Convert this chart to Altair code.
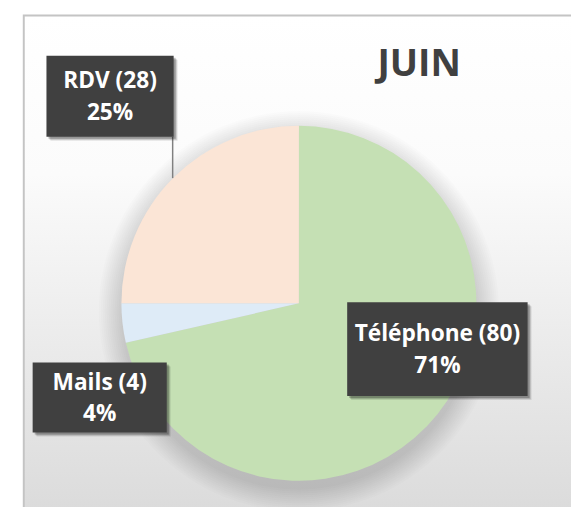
import altair as alt
import pandas as pd

# ---- data ----
categories = ["Téléphone", "Mails", "RDV"]
values = [80, 4, 28]
colors = ["#c5e0b4", "#deebf7", "#fbe5d6"]
title_text = "JUIN"

total = sum(values)
pie_df = pd.DataFrame({
    "cat": categories,
    "val": values,
    "order": list(range(len(categories))),
})
pie_df["label"] = [f"{c} ({v})\n{round(100 * v / total)}%" for c, v in zip(categories, values)]

# ---- layout (chart coords = page coords - 8) ----
CX, CY, R = 295, 296, 180
boxes = {
    "RDV": (39, 45, 168, 127),
    "Téléphone": (344, 295, 527, 390),
    "Mails": (25, 356, 161, 427),
}
FONT = "Open Sans"

dummy = alt.Data(values=[{}])

frame = alt.Chart(dummy).mark_rect(
    fill={"gradient": "linear", "x1": 0, "y1": 0, "x2": 0, "y2": 1,
          "stops": [{"offset": 0, "color": "#ffffff"},
                    {"offset": 0.3, "color": "#fbfbfb"},
                    {"offset": 1, "color": "#d8d8d8"}]},
    stroke="#c4c4c4", strokeWidth=2,
).encode(x=alt.value(16), y=alt.value(4), x2=alt.value(620), y2=alt.value(540))

shadow_layers = []
for k in range(12):
    r = R + 1 + k * 2
    shadow_layers.append(
        alt.Chart(dummy).mark_circle(color="#000000", opacity=0.012, stroke=None)
        .encode(x=alt.value(CX), y=alt.value(CY + 8), size=alt.value((2 * r) ** 2))
    )

pie = alt.Chart(pie_df).mark_arc(outerRadius=R).encode(
    theta=alt.Theta("val:Q", stack=True),
    order=alt.Order("order:Q"),
    color=alt.Color("cat:N", scale=alt.Scale(domain=categories, range=colors), legend=None),
    x=alt.value(CX), y=alt.value(CY),
)

title = alt.Chart(dummy).mark_text(
    text=title_text, font=FONT, fontWeight="bold", fontSize=38,
    color="#404040", align="center", baseline="alphabetic",
).encode(x=alt.value(417), y=alt.value(65))

leader = alt.Chart(dummy).mark_rule(color="#808080", strokeWidth=1.5).encode(
    x=alt.value(167), y=alt.value(127), y2=alt.value(169)
)

label_layers = []
for cat in categories:
    x1, y1, x2, y2 = boxes[cat]
    sub = pie_df[pie_df["cat"] == cat]
    for off, op in [(4, 0.10), (3, 0.15), (2, 0.22)]:
        label_layers.append(
            alt.Chart(dummy).mark_rect(color="#000000", opacity=op)
            .encode(x=alt.value(x1 + off), y=alt.value(y1 + off),
                    x2=alt.value(x2 + off), y2=alt.value(y2 + off))
        )
    label_layers.append(
        alt.Chart(dummy).mark_rect(color="#404040")
        .encode(x=alt.value(x1), y=alt.value(y1), x2=alt.value(x2), y2=alt.value(y2))
    )
    label_layers.append(
        alt.Chart(sub).mark_text(
            font=FONT, fontWeight="bold", fontSize=23, color="#ffffff",
            align="center", baseline="middle", lineBreak="\n", lineHeight=32,
        ).encode(text="label:N", x=alt.value((x1 + x2) / 2), y=alt.value((y1 + y2) / 2 - 15))
    )

chart = alt.layer(frame, *shadow_layers, pie, leader, title, *label_layers).properties(
    width=571, height=499, autosize="none", padding=0
).configure_view(stroke=None)

chart.save("out.html", embed_options={"renderer": "svg", "actions": False})
